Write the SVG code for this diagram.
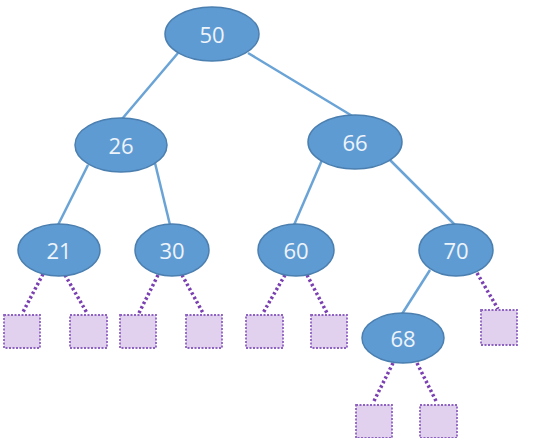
<svg xmlns="http://www.w3.org/2000/svg" width="538" height="438" viewBox="0 0 538 438">
<style>
.n ellipse{fill:#5f9bd3;stroke:#4a7fb0;stroke-width:1.5}
.n text{fill:#eef4fb;font-family:"Open Sans","Liberation Sans",sans-serif;font-size:22px;text-anchor:middle;dominant-baseline:central}
.e{stroke:#6aa3d6;stroke-width:2.5;fill:none}
.d{stroke:#7a3fb0;stroke-width:3.5;stroke-dasharray:2.5 2.5;fill:none}
.leaf rect{fill:#e2d0ef;stroke:#8e62c0;stroke-width:1.8;stroke-dasharray:2 1.5}
</style>
<rect width="538" height="438" fill="#ffffff"/>
<g id="connectors">
<line class="e" x1="178" y1="53" x2="122" y2="119"/>
<line class="e" x1="248" y1="53" x2="354" y2="117"/>
<line class="e" x1="88" y1="165" x2="58" y2="225"/>
<line class="e" x1="155" y1="163" x2="170" y2="225"/>
<line class="e" x1="322" y1="160" x2="294" y2="225"/>
<line class="e" x1="390" y1="160" x2="455" y2="225"/>
<line class="e" x1="430" y1="270" x2="402" y2="314"/>
<line class="d" x1="43" y1="274" x2="23" y2="312"/>
<line class="d" x1="65" y1="275" x2="87" y2="313"/>
<line class="d" x1="158" y1="275" x2="139" y2="313"/>
<line class="d" x1="182" y1="275" x2="203" y2="313"/>
<line class="d" x1="285" y1="275" x2="263" y2="313"/>
<line class="d" x1="307" y1="275" x2="327" y2="313"/>
<line class="d" x1="477" y1="273" x2="498" y2="309"/>
<line class="d" x1="393" y1="363" x2="373" y2="403"/>
<line class="d" x1="417" y1="363" x2="437" y2="403"/>
</g>
<g id="n50" class="n"><ellipse cx="212" cy="34" rx="47" ry="27"/><text x="212" y="34">50</text></g>
<g id="n26" class="n"><ellipse cx="121" cy="145" rx="46" ry="27"/><text x="121" y="145">26</text></g>
<g id="n66" class="n"><ellipse cx="355" cy="142" rx="47" ry="27"/><text x="355" y="142">66</text></g>
<g id="n21" class="n"><ellipse cx="59" cy="250" rx="41" ry="26"/><text x="59" y="250">21</text></g>
<g id="n30" class="n"><ellipse cx="172" cy="250" rx="37" ry="26"/><text x="172" y="250">30</text></g>
<g id="n60" class="n"><ellipse cx="296" cy="250" rx="38" ry="26"/><text x="296" y="250">60</text></g>
<g id="n70" class="n"><ellipse cx="456" cy="250" rx="37" ry="26"/><text x="456" y="250">70</text></g>
<g id="n68" class="n"><ellipse cx="403" cy="338" rx="41" ry="25"/><text x="403" y="338">68</text></g>
<g id="leaf1" class="leaf"><rect x="4" y="315" width="36" height="33"/></g>
<g id="leaf2" class="leaf"><rect x="70" y="315" width="37" height="33"/></g>
<g id="leaf3" class="leaf"><rect x="120" y="315" width="36" height="33"/></g>
<g id="leaf4" class="leaf"><rect x="186" y="315" width="36" height="33"/></g>
<g id="leaf5" class="leaf"><rect x="246" y="315" width="37" height="33"/></g>
<g id="leaf6" class="leaf"><rect x="311" y="315" width="36" height="33"/></g>
<g id="leaf7" class="leaf"><rect x="481" y="310" width="36" height="35"/></g>
<g id="leaf8" class="leaf"><rect x="356" y="405" width="36" height="33"/></g>
<g id="leaf9" class="leaf"><rect x="420" y="405" width="37" height="33"/></g>
</svg>
